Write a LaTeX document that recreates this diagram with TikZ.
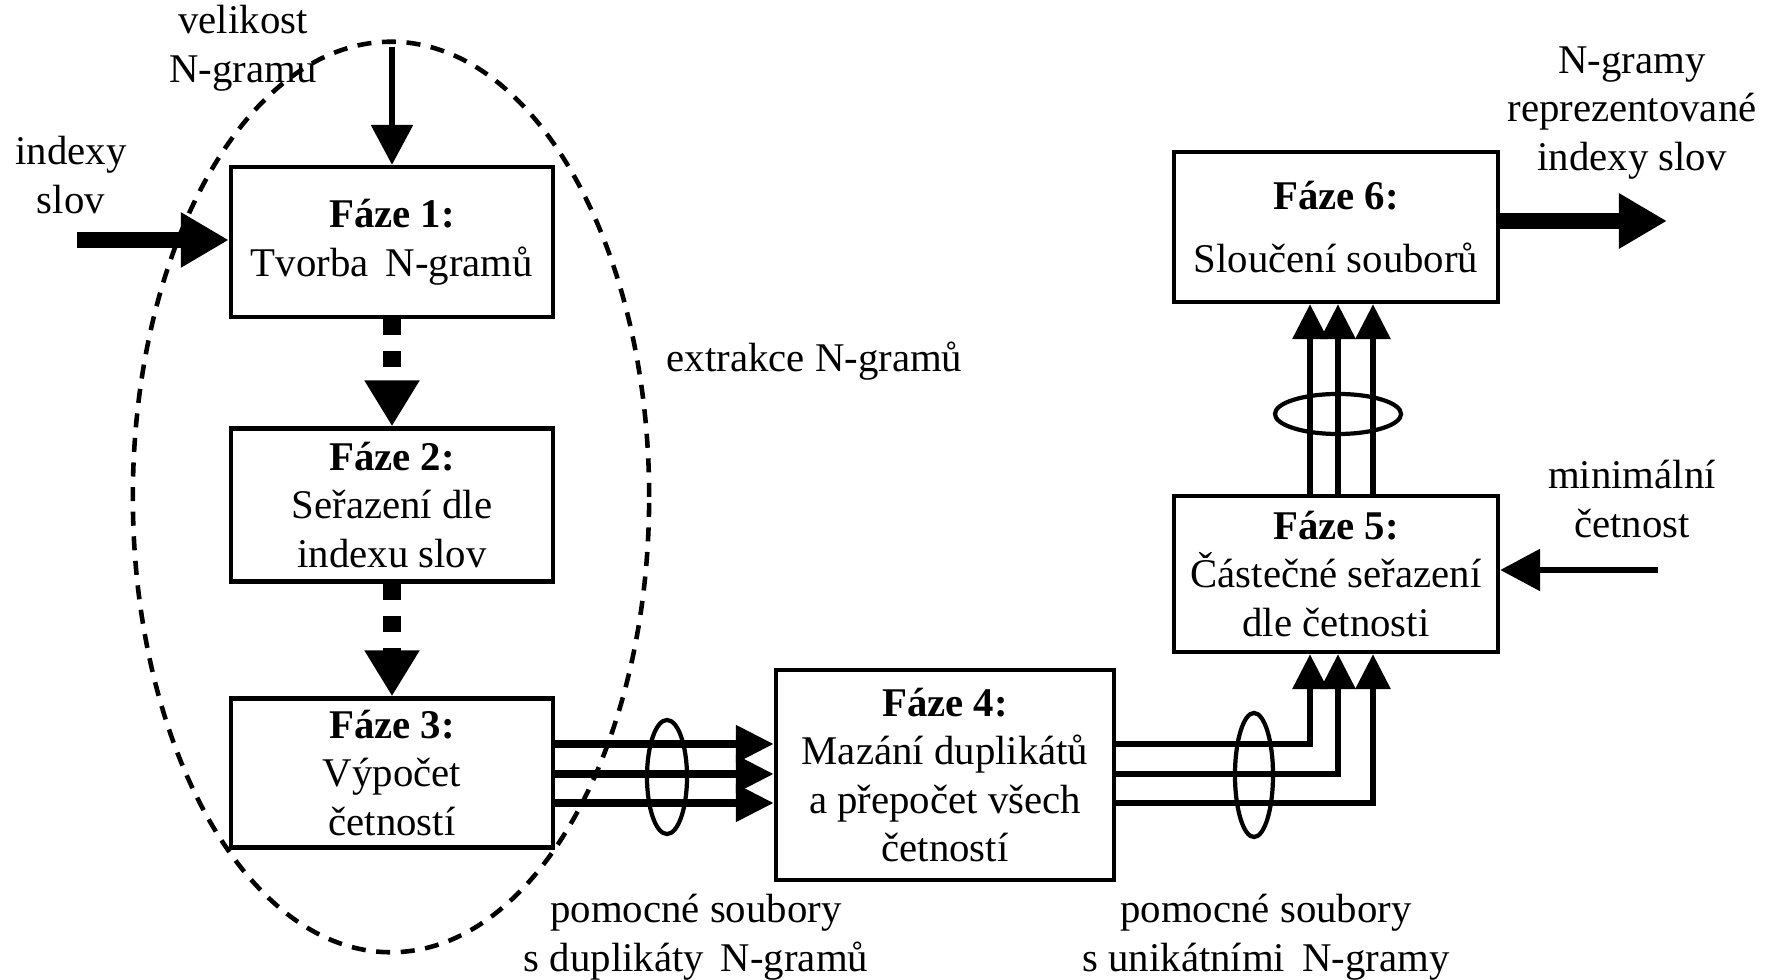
\documentclass[tikz,border=0pt]{standalone}
\usepackage{fontspec}
\setmainfont{Liberation Serif}
\usetikzlibrary{arrows.meta,calc}
\tikzset{
faze/.style={
  draw,
  line width=1.2pt,
  minimum width=3.22cm,
  minimum height=1.5cm,
  align=center,
  inner sep=0pt,
  font=\fontsize{11.6}{13.8}\selectfont
  },
popis/.style={align=center, inner sep=0pt, font=\fontsize{11.6}{13.8}\selectfont},
vstup/.style={line width=4.3pt, -{Triangle[length=0.48cm,width=0.52cm]}},
sipka/.style={line width=1.7pt, -{Triangle[length=0.4cm,width=0.41cm]}},
preruseno/.style={line width=5.1pt, dash pattern=on 0.16cm off 0.16cm, -{Triangle[length=0.46cm,width=0.52cm]}},
soubor/.style={line width=2.3pt, -{Triangle[length=0.38cm,width=0.36cm]}},
unikat/.style={line width=1.8pt, line cap=round, -{Triangle[length=0.35cm,width=0.34cm]}},
svazek/.style={line width=1.2pt},
%okraj/.style={line width=1pt, dash pattern=on 3.5pt off 2.5pt}
}

\begin{document}
\begin{tikzpicture}[x=0.01cm, y=-0.01cm]
    \useasboundingbox (0,0) rectangle (1769,980);

    \node[faze] (f1) at (392,242) {\textbf{Fáze 1:}\\Tvorba\ \,N-gramů};
    \node[faze, minimum height=1.53cm] (f2) at (392,505) {\textbf{Fáze 2:}\\Seřazení dle\\indexu slov};
    \node[faze, minimum height=1.49cm] (f3) at (392,773) {\textbf{Fáze 3:}\\Výpočet\\četností};
    \node[faze, minimum width=3.38cm, minimum height=2.1cm] (f4) at (945,775) {\textbf{Fáze 4:}\\Mazání duplikátů\\a přepočet všech\\četností};
    \node[faze, minimum width=3.24cm, minimum height=1.56cm] (f5) at (1336,574) {\textbf{Fáze 5:}\\Částečné seřazení\\dle četnosti};
    \node[faze, minimum width=3.24cm] (f6) at (1336,227) {\textbf{Fáze 6:}\\[4pt]Sloučení souborů};

    \node[popis] (velikost) at (243,48) {velikost\\N-gramu};
    \node[popis] (indexy) at (71,175) {indexy\\slov};
    \node[popis, anchor=west] (extrakce) at (666,361) {extrakce N-gramů};
    \node[popis] (vysledek) at (1632,113) {N-gramy\\reprezentované\\indexy slov};
    \node[popis] (minimum) at (1632,499) {minimální\\četnost};
    \node[popis] (duplikaty) at (696,937) {pomocné soubory\\s duplikáty\ \,N-gramů};
    \node[popis] (unikaty) at (1266,937) {pomocné soubory\\s unikátními\ \,N-gramy};

    \coordinate (c-velikost) at (392,47);
    \coordinate (c-vstup) at (77,240);
    \coordinate (c-vystup) at (1667,221);
    \coordinate (c-minimum) at (1658,570);

    \draw[line width=1.3pt, dash pattern=on 4pt off 3pt] (391,497) ellipse [x radius=2.58cm, y radius=4.55cm];

    \draw[sipka] (c-velikost) -- (f1.north);
    \draw[vstup] (c-vstup) -- (f1.west |- c-vstup);
    \draw[preruseno] (f1.south) -- (f2.north);
    \draw[preruseno] (f2.south) -- (f3.north);
    \foreach \y in {744,774,803}
        \draw[soubor] (f3.east |- 0,\y) -- (f4.west |- 0,\y);
    \foreach \y/\x in {744/1310, 774/1338, 803/1373}
    {
        \draw[unikat] (f4.east |- 0,\y) -| (\x,0 |- f5.south);
        \draw[unikat] (\x,0 |- f5.north) -- (\x,0 |- f6.south);
    }
    \draw[sipka] (c-minimum) -- (f5.east |- c-minimum);
    \draw[vstup] (f6.east |- c-vystup) -- (c-vystup);

    \draw[svazek] (667,777) ellipse [x radius=0.2cm, y radius=0.57cm];
    \draw[svazek] (1254,775) ellipse [x radius=0.19cm, y radius=0.62cm];
    \draw[svazek] (1338,414) ellipse [x radius=0.63cm, y radius=0.2cm];

\end{tikzpicture}
\end{document}
